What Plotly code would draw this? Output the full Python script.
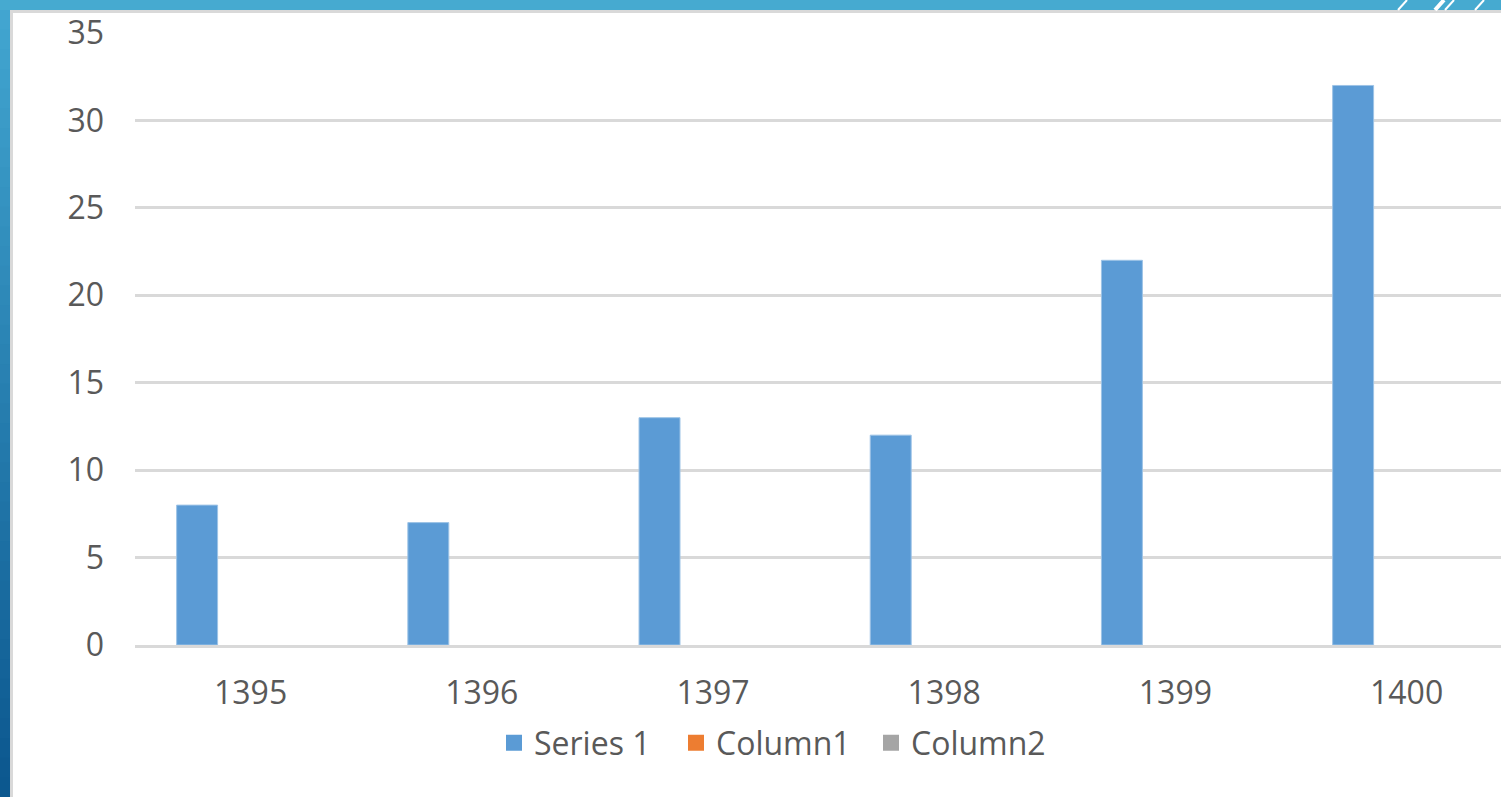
import plotly.graph_objects as go

categories = ["1395", "1396", "1397", "1398", "1399", "1400"]
series1 = [8, 7, 13, 12, 22, 32]
column1 = [None, None, None, None, None, None]
column2 = [None, None, None, None, None, None]
series_names = ["Series 1", "Column1", "Column2"]
series_colors = ["#5b9bd5", "#ed7d31", "#a5a5a5"]
y_ticks = [0, 5, 10, 15, 20, 25, 30, 35]

W, H = 1501, 797
ML, MR, MT, MB = 135, 0, 33, 152
PW = W - ML - MR
PH = H - MT - MB


def px(x):
    return (x - ML) / PW


def py(y):
    return (H - MB - y) / PH


fig = go.Figure()
for vals, name, col in zip([series1, column1, column2], series_names, series_colors):
    fig.add_trace(go.Bar(x=categories, y=vals, name=name, showlegend=False, legendgroup=name,
                         marker=dict(color=col, line=dict(color="#9dc3e6" if name == "Series 1" else col,
                                                          width=1))))
# legend entries (larger square swatches like the original)
leg_widths = [137, 150, 140]
for name, col, lw in zip(series_names, series_colors, leg_widths):
    fig.add_trace(go.Scatter(x=[None], y=[None], mode="markers", name=name, legendgroup=name,
                             legendwidth=lw,
                             marker=dict(symbol="square", size=16, color=col, line=dict(width=0))))

shapes = []
shapes.append(dict(type="rect", xref="paper", yref="paper", x0=px(0), x1=px(W), y0=py(H), y1=py(0),
                   fillcolor="#46aad0", line=dict(width=0), layer="below"))
n = 40
c0 = (66, 165, 208)
c1 = (12, 88, 143)
for i in range(n):
    t = i / (n - 1)
    col = "rgb(%d,%d,%d)" % tuple(int(c0[k] + (c1[k] - c0[k]) * t) for k in range(3))
    y0p = 10 + (H - 10) * i / n
    y1p = 10 + (H - 10) * (i + 1) / n + 1
    shapes.append(dict(type="rect", xref="paper", yref="paper", x0=px(0), x1=px(11), y0=py(y1p), y1=py(y0p),
                       fillcolor=col, line=dict(width=0), layer="below"))
shapes.append(dict(type="rect", xref="paper", yref="paper", x0=px(10), x1=px(W), y0=py(H), y1=py(10),
                   fillcolor="#d9d9d9", line=dict(width=0), layer="below"))
shapes.append(dict(type="rect", xref="paper", yref="paper", x0=px(13), x1=px(W), y0=py(H), y1=py(13),
                   fillcolor="#ffffff", line=dict(width=0), layer="below"))
for (xa, w) in [(1403, 2), (1440, 4), (1450, 2), (1480, 2)]:
    shapes.append(dict(type="line", xref="paper", yref="paper", x0=px(xa - 5), x1=px(xa + 4), y0=py(10), y1=py(0),
                       line=dict(color="#ffffff", width=w), layer="below"))

fig.update_layout(
    width=W, height=H,
    margin=dict(l=ML, r=MR, t=MT, b=MB),
    paper_bgcolor="#ffffff",
    plot_bgcolor="rgba(0,0,0,0)",
    barmode="group",
    bargap=0.306,
    bargroupgap=0.234,
    font=dict(family="Open Sans, Noto Sans, sans-serif", color="#595959", size=32),
    shapes=shapes,
    showlegend=True,
    legend=dict(orientation="h", x=px(494), xanchor="left", y=py(743), yanchor="middle",
                font=dict(size=32, color="#595959"), bgcolor="rgba(0,0,0,0)", traceorder="normal",
                borderwidth=0),
    hovermode=False,
)
fig.update_xaxes(range=[-0.5, -0.5 + PW / 231.2], showgrid=False, showline=True, linecolor="#d9d9d9",
                 linewidth=3, ticks="", ticklabelstandoff=18, tickfont=dict(size=32, color="#595959"),
                 fixedrange=True, zeroline=False)
fig.update_yaxes(range=[0, 35], tickvals=y_ticks, showgrid=True, gridcolor="#d9d9d9", gridwidth=3,
                 zeroline=False, showline=False, ticks="", ticklabelstandoff=30,
                 tickfont=dict(size=32, color="#595959"), fixedrange=True)

fig.write_html("out.html", config={"displayModeBar": False},
               post_script="document.body.style.margin='0';document.body.style.overflow='hidden';")
